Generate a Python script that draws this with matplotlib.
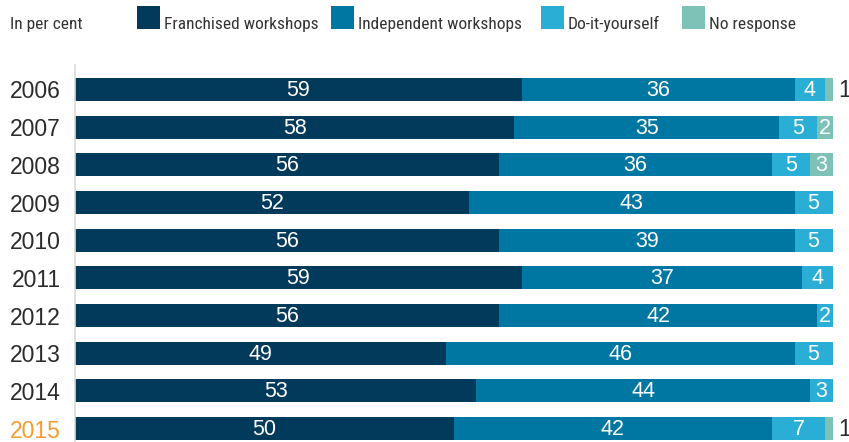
import matplotlib
matplotlib.use("Agg")
import matplotlib.pyplot as plt
from matplotlib.patches import Rectangle
from matplotlib import font_manager

years = ["2006", "2007", "2008", "2009", "2010", "2011", "2012", "2013", "2014", "2015"]
franchised = [59, 58, 56, 52, 56, 59, 56, 49, 53, 50]
independent = [36, 35, 36, 43, 39, 37, 42, 46, 44, 42]
diy = [4, 5, 5, 5, 5, 4, 2, 5, 3, 7]
no_response = [1, 2, 3, 0, 0, 0, 0, 0, 0, 1]

series_names = ["Franchised workshops", "Independent workshops", "Do-it-yourself", "No response"]
colors = ["#023a5c", "#0077a2", "#2aaed6", "#7ec1b6"]
text_dark = "#2b2b2b"
highlight = "#f59c30"

installed = {f.name for f in font_manager.fontManager.ttflist}
condensed = [f for f in ["Roboto Condensed", "Open Sans Condensed", "Liberation Sans Narrow",
                         "Noto Sans Condensed", "DejaVu Sans Condensed"] if f in installed]
narrow = condensed[0] if condensed else "Liberation Sans"
legend_size = 12.5 if condensed else 10.8
num_font = "Liberation Sans"

W, H = 849, 442
fig = plt.figure(figsize=(W / 100, H / 100), dpi=100)

# plot area in pixel terms
left_px, right_px = 75, 832.5
top_px, bottom_px = 65, 442
row0_px, row_step = 89.5, 37.67
ax = fig.add_axes([left_px / W, 1 - bottom_px / H, (right_px - left_px) / W, (bottom_px - top_px) / H])

n = len(years)
ypos = list(range(n))
series = [franchised, independent, diy, no_response]
lefts = [0] * n
for vals, col in zip(series, colors):
    ax.barh(ypos, vals, left=lefts, height=0.61, color=col, linewidth=0)
    for i, (v, l) in enumerate(zip(vals, lefts)):
        if v >= 2:
            ax.text(l + v / 2, i + 0.03, str(v), ha="center", va="center",
                    color="white", fontsize=15.5, family=num_font)
        elif v == 1:
            ax.text(100.7, i + 0.03, str(v), ha="left", va="center",
                    color=text_dark, fontsize=16.5, family=num_font, clip_on=False)
    lefts = [a + b for a, b in zip(lefts, vals)]

ax.set_xlim(0, 100)
ax.set_ylim((bottom_px - row0_px) / row_step, (top_px - row0_px) / row_step)
ax.set_xticks([])
ax.set_yticks(ypos)
ax.set_yticklabels(years, fontsize=16.5, family=num_font, color=text_dark)
ax.get_yticklabels()[-1].set_color(highlight)
ax.tick_params(axis="y", length=0, pad=10)
for s in ["top", "right", "bottom"]:
    ax.spines[s].set_visible(False)
ax.spines["left"].set_color("#dadada")
ax.spines["left"].set_linewidth(1.2)
ax.patch.set_alpha(0)

# legend row
base_y = 1 - 28.5 / H
fig.text(10 / W, base_y, "In per cent", ha="left", va="baseline",
         fontsize=legend_size, family=narrow, color="#333333")
sq_x = [137, 331, 541, 682]
for x, name, col in zip(sq_x, series_names, colors):
    fig.patches.append(Rectangle((x / W, 1 - 29 / H), 23 / W, 23 / H,
                                 transform=fig.transFigure, color=col, linewidth=0))
    fig.text((x + 27) / W, base_y, name, ha="left", va="baseline",
             fontsize=legend_size, family=narrow, color="#333333")

fig.savefig("out.png", dpi=100)
